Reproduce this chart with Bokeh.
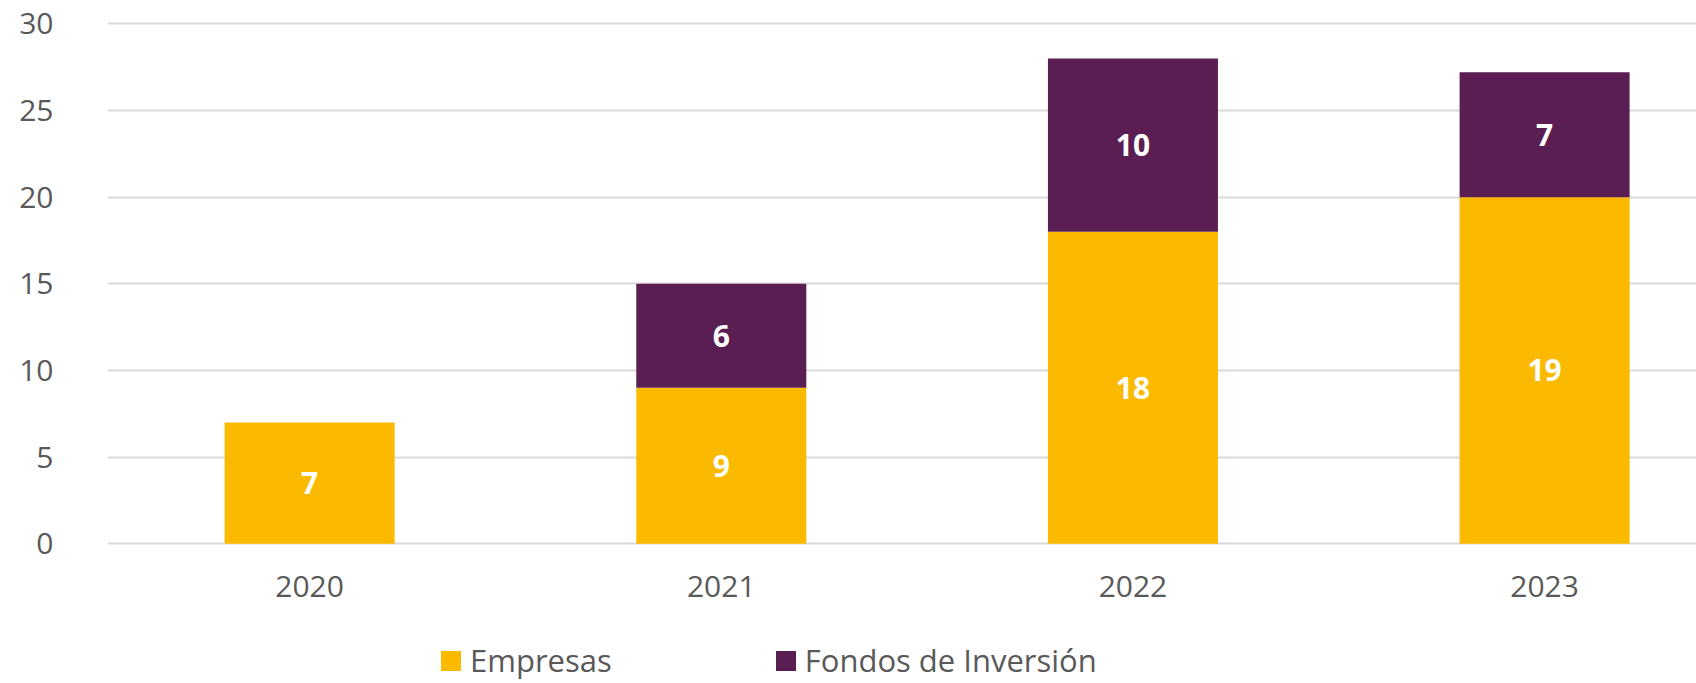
from bokeh.plotting import figure
from bokeh.models import ColumnDataSource, Range1d, FixedTicker, Legend, LegendItem
from bokeh.core.properties import value
from bokeh.embed import file_html
from bokeh.resources import INLINE

# ---- data ----
years = [2020, 2021, 2022, 2023]
empresas = [7, 9, 18, 20]          # drawn bar heights
fondos = [0, 6, 10, 7.2]           # drawn bar heights
empresas_labels = ["7", "9", "18", "19"]
fondos_labels = ["", "6", "10", "7"]
y_ticks = [0, 5, 10, 15, 20, 25, 30]
series_keys = ["empresas", "fondos"]
series_names = ["Empresas", "Fondos de Inversión"]
colors = ["#FBB900", "#5A1E52"]

FONT = "Open Sans"
GREY = "#595959"

src = ColumnDataSource(dict(years=years, empresas=empresas, fondos=fondos))

p = figure(width=1696, height=683, output_backend="svg", toolbar_location=None,
           x_range=Range1d(2019.509, 2023.369), y_range=Range1d(-8.06, 30.825),
           min_border_left=107, min_border_right=0, min_border_top=9,
           min_border_bottom=0)
p.outline_line_color = None
p.background_fill_color = "white"
p.border_fill_color = "white"

rs = p.vbar_stack(series_keys, x="years", width=0.413, color=colors,
                  line_color=None, source=src)

# data labels (centred in each segment)
lx, ly, lt = [], [], []
for yr, e, f, el, fl in zip(years, empresas, fondos, empresas_labels, fondos_labels):
    if el:
        lx.append(yr); ly.append(e / 2); lt.append(el)
    if fl:
        lx.append(yr); ly.append(e + f / 2); lt.append(fl)
lsrc = ColumnDataSource(dict(x=lx, y=ly, t=lt))
p.text(x="x", y="y", text="t", source=lsrc, text_align="center",
       text_baseline="middle", text_color="white", text_font=value(FONT),
       text_font_style="bold", text_font_size="30px")

# axes
xa = p.xaxis[0]
xa.ticker = FixedTicker(ticks=years)
xa.fixed_location = 0
ya = p.yaxis[0]
ya.ticker = FixedTicker(ticks=y_ticks)
for ax in (xa, ya):
    ax.axis_line_color = None
    ax.major_tick_line_color = None
    ax.minor_tick_line_color = None
    ax.major_tick_out = 0
    ax.major_tick_in = 0
    ax.major_label_text_font = FONT
    ax.major_label_text_font_size = "30px"
    ax.major_label_text_color = GREY
xa.major_label_standoff = 32
ya.major_label_standoff = 54

p.xgrid.grid_line_color = None
p.ygrid.grid_line_color = "#D9D9D9"
p.ygrid.grid_line_width = 2

legend = Legend(items=[LegendItem(label=n, renderers=[r]) for n, r in zip(series_names, rs)],
                location=(331, 2), orientation="horizontal",
                glyph_width=25, glyph_height=25, label_standoff=7, spacing=161,
                padding=0, margin=0, border_line_color=None,
                background_fill_alpha=0, label_text_font=FONT,
                label_text_font_size="31px", label_text_color=GREY)
p.add_layout(legend, "center")

open("out.html", "w").write(file_html(p, INLINE))
